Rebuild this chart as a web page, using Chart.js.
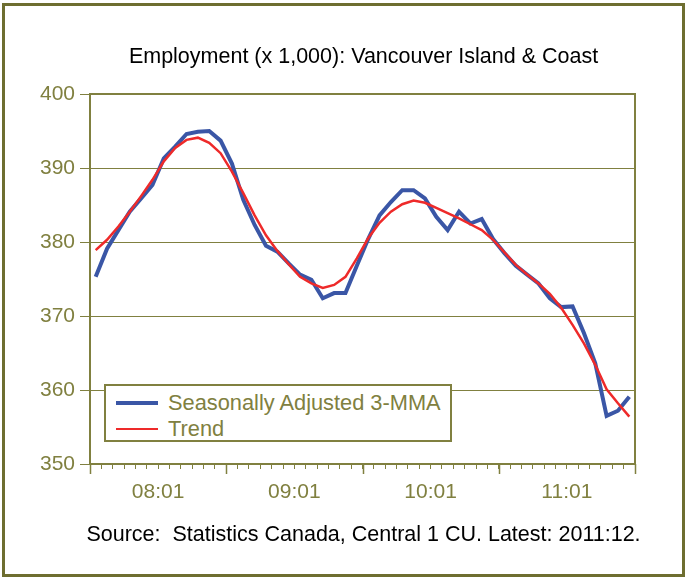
<!DOCTYPE html>
<html>
<head>
<meta charset="utf-8">
<script src="https://cdn.jsdelivr.net/npm/chart.js@4/dist/chart.umd.min.js"></script>
<style>
  body { margin: 0; background: #fff; }
  #wrap { position: relative; width: 687px; height: 579px; }
  #frame {
    position: absolute; left: 2px; top: 3px; width: 683px; height: 574px;
    border: 3px solid #6e6e30; box-sizing: border-box; pointer-events: none;
  }
  #legend {
    position: absolute; left: 104px; top: 384px; width: 348px; height: 58px;
    box-sizing: border-box; border: 2px solid #808040; background: #fff;
    padding: 4px 0 0 10px;
    font: 21.8px "Liberation Sans", Arial, sans-serif; color: #808040;
  }
  #legend .row { display: flex; align-items: center; height: 26px; }
  #legend .swatch { width: 42px; margin-right: 10px; }
</style>
</head>
<body>
<div id="wrap">
  <canvas id="chart" width="687" height="579"></canvas>
  <div id="legend"></div>
  <div id="frame"></div>
</div>
<script>
// monthly categories, 2008:01 - 2011:12
var months = [
  '08:01','08:02','08:03','08:04','08:05','08:06','08:07','08:08','08:09','08:10','08:11','08:12',
  '09:01','09:02','09:03','09:04','09:05','09:06','09:07','09:08','09:09','09:10','09:11','09:12',
  '10:01','10:02','10:03','10:04','10:05','10:06','10:07','10:08','10:09','10:10','10:11','10:12',
  '11:01','11:02','11:03','11:04','11:05','11:06','11:07','11:08','11:09','11:10','11:11','11:12'
];

// employment, thousands
var seasAdj3mma = [
  375.3, 379.1, 381.6, 384.1, 385.9, 387.7, 391.3, 392.9, 394.6, 394.9, 395.0, 393.7,
  390.6, 385.7, 382.3, 379.5, 378.7, 377.1, 375.6, 374.9, 372.4, 373.1, 373.1, 376.8,
  380.4, 383.6, 385.4, 387.0, 387.0, 385.9, 383.4, 381.6, 384.1, 382.5, 383.1, 380.4,
  378.5, 376.8, 375.6, 374.4, 372.4, 371.2, 371.3, 367.7, 363.6, 356.5, 357.2, 359.1
];
var trend = [
  378.9, 380.3, 382.1, 384.1, 386.2, 388.4, 390.9, 392.7, 393.8, 394.1, 393.4, 392.0,
  389.5, 386.6, 383.6, 380.9, 378.8, 377.0, 375.3, 374.4, 373.8, 374.2, 375.3, 377.8,
  380.5, 382.6, 384.1, 385.1, 385.6, 385.3, 384.6, 383.9, 383.2, 382.4, 381.6, 380.3,
  378.6, 376.9, 375.6, 374.4, 373.0, 371.1, 368.8, 366.3, 363.4, 360.1, 358.2, 356.4
];

var olive = '#808040';
var fontFamily = '"Liberation Sans", Arial, sans-serif';

// box round the plot area plus the longer year ticks
var plotFrame = {
  id: 'plotFrame',
  afterDraw: function (chart) {
    var ctx = chart.ctx, a = chart.chartArea, x = chart.scales.x;
    ctx.save();
    ctx.strokeStyle = olive;
    ctx.lineWidth = 2;
    ctx.strokeRect(a.left, a.top, a.right - a.left, a.bottom - a.top);
    ctx.lineWidth = 1.5;
    ctx.beginPath();
    for (var i = 0; i <= months.length; i += 12) {
      var px = Math.round(x.getPixelForValue(i - 0.5)) + 0.5;
      ctx.moveTo(px, a.bottom);
      ctx.lineTo(px, a.bottom + 10);
    }
    ctx.stroke();
    ctx.restore();
  }
};

var ctx = document.getElementById('chart').getContext('2d');
var myChart = new Chart(ctx, {
  type: 'line',
  data: {
    labels: months,
    datasets: [
      {
        label: 'Seasonally Adjusted 3-MMA',
        data: seasAdj3mma,
        borderColor: '#3a56a6',
        borderWidth: 4,
        pointRadius: 0,
        tension: 0,
        order: 2
      },
      {
        label: 'Trend',
        data: trend,
        borderColor: '#ee2a2a',
        borderWidth: 2.5,
        pointRadius: 0,
        tension: 0,
        order: 1
      }
    ]
  },
  options: {
    responsive: false,
    animation: false,
    devicePixelRatio: 1,
    layout: { padding: { left: 40, right: 0, top: 0, bottom: 0 } },
    scales: {
      x: {
        type: 'category',
        offset: true,
        grid: {
          offset: true,
          drawOnChartArea: false,
          tickLength: 5,
          color: olive
        },
        border: { color: olive, width: 2 },
        ticks: {
          autoSkip: false,
          maxRotation: 0,
          labelOffset: 62.4,
          padding: 11,
          color: olive,
          font: { family: fontFamily, size: 21 },
          callback: function (value, index) {
            return months[index].slice(3) === '01' ? months[index] : '';
          }
        },
        afterFit: function (scale) { scale.height = 47; }
      },
      y: {
        min: 350,
        max: 400,
        grid: { color: olive, lineWidth: 1, tickLength: 10 },
        border: { color: olive, width: 2 },
        ticks: {
          stepSize: 10,
          padding: 5,
          color: olive,
          font: { family: fontFamily, size: 21 }
        },
        afterFit: function (scale) { scale.width = 50; }
      },
      // empty right-hand spacer so the plot ends where the reference does
      y2: {
        position: 'right',
        grid: { display: false },
        border: { display: false },
        ticks: { display: false },
        afterFit: function (scale) { scale.width = 52; }
      }
    },
    plugins: {
      legend: { display: false },
      tooltip: { enabled: false },
      title: {
        display: true,
        text: 'Employment (x 1,000): Vancouver Island & Coast',
        color: '#000',
        font: { family: fontFamily, size: 21.5, weight: 'normal' },
        padding: { top: 44.1, bottom: 24.1 }
      },
      subtitle: {
        display: true,
        position: 'bottom',
        text: 'Source:  Statistics Canada, Central 1 CU. Latest: 2011:12.',
        color: '#000',
        font: { family: fontFamily, size: 21.5, weight: 'normal' },
        padding: { top: 11.1, bottom: 31.1 }
      }
    }
  },
  plugins: [plotFrame]
});

// legend box inside the plot area, built from the datasets
var legendEl = document.getElementById('legend');
myChart.data.datasets.forEach(function (ds) {
  var row = document.createElement('div');
  row.className = 'row';
  var sw = document.createElement('span');
  sw.className = 'swatch';
  sw.style.height = ds.borderWidth + 'px';
  sw.style.background = ds.borderColor;
  var txt = document.createElement('span');
  txt.textContent = ds.label;
  row.appendChild(sw);
  row.appendChild(txt);
  legendEl.appendChild(row);
});
</script>
</body>
</html>
